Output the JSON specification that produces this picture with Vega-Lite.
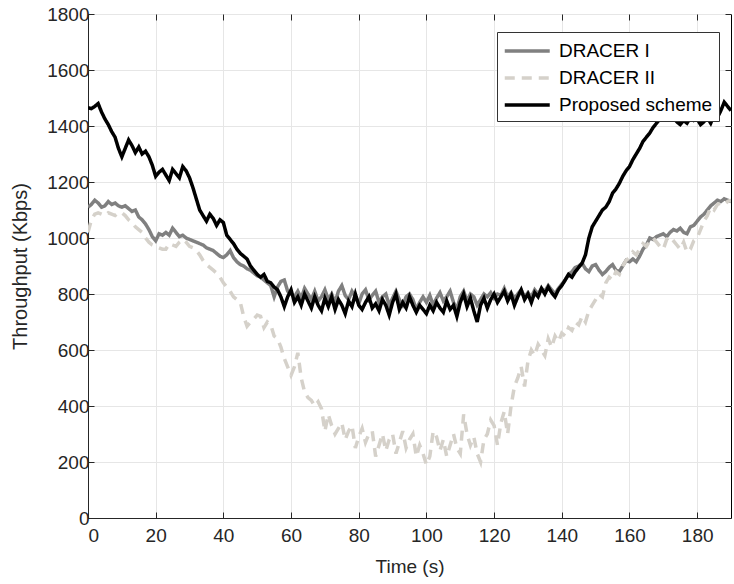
{
  "$schema": "https://vega.github.io/schema/vega-lite/v6.json",
  "width": 643,
  "height": 504,
  "autosize": {"type": "none"},
  "padding": {"left": 88, "top": 14, "right": 3, "bottom": 66},
  "background": "white",
  "config": {
    "font": "Liberation Sans",
    "view": {"stroke": "black", "strokeWidth": 1}
  },
  "data": {"values": [
    {"t":0,"DRACER I":1110,"DRACER II":1020,"Proposed scheme":1465},
    {"t":1,"DRACER I":1120,"DRACER II":1065,"Proposed scheme":1462},
    {"t":2,"DRACER I":1135,"DRACER II":1085,"Proposed scheme":1470},
    {"t":3,"DRACER I":1125,"DRACER II":1090,"Proposed scheme":1480},
    {"t":4,"DRACER I":1110,"DRACER II":1085,"Proposed scheme":1450},
    {"t":5,"DRACER I":1115,"DRACER II":1080,"Proposed scheme":1425},
    {"t":6,"DRACER I":1130,"DRACER II":1090,"Proposed scheme":1405},
    {"t":7,"DRACER I":1120,"DRACER II":1085,"Proposed scheme":1380},
    {"t":8,"DRACER I":1125,"DRACER II":1080,"Proposed scheme":1360},
    {"t":9,"DRACER I":1115,"DRACER II":1090,"Proposed scheme":1320},
    {"t":10,"DRACER I":1110,"DRACER II":1090,"Proposed scheme":1290},
    {"t":11,"DRACER I":1115,"DRACER II":1080,"Proposed scheme":1320},
    {"t":12,"DRACER I":1105,"DRACER II":1065,"Proposed scheme":1350},
    {"t":13,"DRACER I":1095,"DRACER II":1055,"Proposed scheme":1330},
    {"t":14,"DRACER I":1100,"DRACER II":1040,"Proposed scheme":1305},
    {"t":15,"DRACER I":1075,"DRACER II":1030,"Proposed scheme":1325},
    {"t":16,"DRACER I":1065,"DRACER II":1020,"Proposed scheme":1300},
    {"t":17,"DRACER I":1050,"DRACER II":1000,"Proposed scheme":1310},
    {"t":18,"DRACER I":1030,"DRACER II":985,"Proposed scheme":1290},
    {"t":19,"DRACER I":1005,"DRACER II":975,"Proposed scheme":1260},
    {"t":20,"DRACER I":990,"DRACER II":970,"Proposed scheme":1220},
    {"t":21,"DRACER I":1015,"DRACER II":965,"Proposed scheme":1235},
    {"t":22,"DRACER I":1010,"DRACER II":960,"Proposed scheme":1245},
    {"t":23,"DRACER I":1020,"DRACER II":960,"Proposed scheme":1225},
    {"t":24,"DRACER I":1010,"DRACER II":980,"Proposed scheme":1205},
    {"t":25,"DRACER I":1035,"DRACER II":975,"Proposed scheme":1245},
    {"t":26,"DRACER I":1020,"DRACER II":970,"Proposed scheme":1230},
    {"t":27,"DRACER I":1005,"DRACER II":985,"Proposed scheme":1215},
    {"t":28,"DRACER I":1010,"DRACER II":995,"Proposed scheme":1255},
    {"t":29,"DRACER I":1000,"DRACER II":985,"Proposed scheme":1240},
    {"t":30,"DRACER I":995,"DRACER II":970,"Proposed scheme":1215},
    {"t":31,"DRACER I":990,"DRACER II":965,"Proposed scheme":1180},
    {"t":32,"DRACER I":985,"DRACER II":955,"Proposed scheme":1140},
    {"t":33,"DRACER I":980,"DRACER II":940,"Proposed scheme":1100},
    {"t":34,"DRACER I":975,"DRACER II":920,"Proposed scheme":1080},
    {"t":35,"DRACER I":965,"DRACER II":905,"Proposed scheme":1060},
    {"t":36,"DRACER I":960,"DRACER II":895,"Proposed scheme":1085},
    {"t":37,"DRACER I":955,"DRACER II":885,"Proposed scheme":1070},
    {"t":38,"DRACER I":945,"DRACER II":875,"Proposed scheme":1045},
    {"t":39,"DRACER I":935,"DRACER II":860,"Proposed scheme":1065},
    {"t":40,"DRACER I":930,"DRACER II":840,"Proposed scheme":1055},
    {"t":41,"DRACER I":940,"DRACER II":825,"Proposed scheme":1010},
    {"t":42,"DRACER I":955,"DRACER II":810,"Proposed scheme":995},
    {"t":43,"DRACER I":930,"DRACER II":790,"Proposed scheme":980},
    {"t":44,"DRACER I":915,"DRACER II":780,"Proposed scheme":960},
    {"t":45,"DRACER I":905,"DRACER II":770,"Proposed scheme":945},
    {"t":46,"DRACER I":900,"DRACER II":720,"Proposed scheme":935},
    {"t":47,"DRACER I":890,"DRACER II":685,"Proposed scheme":925},
    {"t":48,"DRACER I":885,"DRACER II":700,"Proposed scheme":900},
    {"t":49,"DRACER I":875,"DRACER II":710,"Proposed scheme":885},
    {"t":50,"DRACER I":865,"DRACER II":725,"Proposed scheme":870},
    {"t":51,"DRACER I":860,"DRACER II":720,"Proposed scheme":860},
    {"t":52,"DRACER I":850,"DRACER II":680,"Proposed scheme":870},
    {"t":53,"DRACER I":840,"DRACER II":700,"Proposed scheme":845},
    {"t":54,"DRACER I":830,"DRACER II":690,"Proposed scheme":840},
    {"t":55,"DRACER I":790,"DRACER II":650,"Proposed scheme":825},
    {"t":56,"DRACER I":825,"DRACER II":640,"Proposed scheme":815},
    {"t":57,"DRACER I":845,"DRACER II":610,"Proposed scheme":790},
    {"t":58,"DRACER I":850,"DRACER II":570,"Proposed scheme":755},
    {"t":59,"DRACER I":810,"DRACER II":540,"Proposed scheme":790},
    {"t":60,"DRACER I":800,"DRACER II":510,"Proposed scheme":815},
    {"t":61,"DRACER I":790,"DRACER II":540,"Proposed scheme":770},
    {"t":62,"DRACER I":810,"DRACER II":590,"Proposed scheme":790},
    {"t":63,"DRACER I":785,"DRACER II":500,"Proposed scheme":760},
    {"t":64,"DRACER I":820,"DRACER II":450,"Proposed scheme":800},
    {"t":65,"DRACER I":800,"DRACER II":430,"Proposed scheme":775},
    {"t":66,"DRACER I":780,"DRACER II":420,"Proposed scheme":750},
    {"t":67,"DRACER I":810,"DRACER II":400,"Proposed scheme":790},
    {"t":68,"DRACER I":775,"DRACER II":415,"Proposed scheme":760},
    {"t":69,"DRACER I":790,"DRACER II":390,"Proposed scheme":740},
    {"t":70,"DRACER I":815,"DRACER II":310,"Proposed scheme":785},
    {"t":71,"DRACER I":780,"DRACER II":370,"Proposed scheme":755},
    {"t":72,"DRACER I":800,"DRACER II":330,"Proposed scheme":790},
    {"t":73,"DRACER I":770,"DRACER II":300,"Proposed scheme":745},
    {"t":74,"DRACER I":810,"DRACER II":320,"Proposed scheme":780},
    {"t":75,"DRACER I":830,"DRACER II":340,"Proposed scheme":760},
    {"t":76,"DRACER I":795,"DRACER II":280,"Proposed scheme":730},
    {"t":77,"DRACER I":780,"DRACER II":310,"Proposed scheme":775},
    {"t":78,"DRACER I":810,"DRACER II":330,"Proposed scheme":755},
    {"t":79,"DRACER I":790,"DRACER II":250,"Proposed scheme":800},
    {"t":80,"DRACER I":765,"DRACER II":290,"Proposed scheme":760},
    {"t":81,"DRACER I":800,"DRACER II":320,"Proposed scheme":745},
    {"t":82,"DRACER I":815,"DRACER II":270,"Proposed scheme":770},
    {"t":83,"DRACER I":780,"DRACER II":300,"Proposed scheme":790},
    {"t":84,"DRACER I":795,"DRACER II":310,"Proposed scheme":750},
    {"t":85,"DRACER I":810,"DRACER II":220,"Proposed scheme":765},
    {"t":86,"DRACER I":770,"DRACER II":260,"Proposed scheme":740},
    {"t":87,"DRACER I":790,"DRACER II":300,"Proposed scheme":780},
    {"t":88,"DRACER I":800,"DRACER II":240,"Proposed scheme":760},
    {"t":89,"DRACER I":760,"DRACER II":280,"Proposed scheme":725},
    {"t":90,"DRACER I":785,"DRACER II":300,"Proposed scheme":770},
    {"t":91,"DRACER I":810,"DRACER II":230,"Proposed scheme":800},
    {"t":92,"DRACER I":780,"DRACER II":270,"Proposed scheme":745},
    {"t":93,"DRACER I":760,"DRACER II":310,"Proposed scheme":770},
    {"t":94,"DRACER I":790,"DRACER II":250,"Proposed scheme":750},
    {"t":95,"DRACER I":800,"DRACER II":280,"Proposed scheme":790},
    {"t":96,"DRACER I":780,"DRACER II":300,"Proposed scheme":760},
    {"t":97,"DRACER I":745,"DRACER II":220,"Proposed scheme":735},
    {"t":98,"DRACER I":770,"DRACER II":260,"Proposed scheme":760},
    {"t":99,"DRACER I":790,"DRACER II":230,"Proposed scheme":745},
    {"t":100,"DRACER I":770,"DRACER II":190,"Proposed scheme":730},
    {"t":101,"DRACER I":795,"DRACER II":220,"Proposed scheme":760},
    {"t":102,"DRACER I":760,"DRACER II":310,"Proposed scheme":740},
    {"t":103,"DRACER I":785,"DRACER II":290,"Proposed scheme":770},
    {"t":104,"DRACER I":805,"DRACER II":240,"Proposed scheme":750},
    {"t":105,"DRACER I":775,"DRACER II":280,"Proposed scheme":735},
    {"t":106,"DRACER I":790,"DRACER II":220,"Proposed scheme":775},
    {"t":107,"DRACER I":810,"DRACER II":260,"Proposed scheme":745},
    {"t":108,"DRACER I":770,"DRACER II":300,"Proposed scheme":760},
    {"t":109,"DRACER I":745,"DRACER II":250,"Proposed scheme":720},
    {"t":110,"DRACER I":790,"DRACER II":230,"Proposed scheme":770},
    {"t":111,"DRACER I":810,"DRACER II":370,"Proposed scheme":800},
    {"t":112,"DRACER I":775,"DRACER II":300,"Proposed scheme":755},
    {"t":113,"DRACER I":800,"DRACER II":260,"Proposed scheme":785},
    {"t":114,"DRACER I":790,"DRACER II":290,"Proposed scheme":740},
    {"t":115,"DRACER I":760,"DRACER II":230,"Proposed scheme":700},
    {"t":116,"DRACER I":780,"DRACER II":200,"Proposed scheme":760},
    {"t":117,"DRACER I":800,"DRACER II":280,"Proposed scheme":785},
    {"t":118,"DRACER I":790,"DRACER II":300,"Proposed scheme":750},
    {"t":119,"DRACER I":805,"DRACER II":350,"Proposed scheme":780},
    {"t":120,"DRACER I":785,"DRACER II":330,"Proposed scheme":800},
    {"t":121,"DRACER I":800,"DRACER II":260,"Proposed scheme":770},
    {"t":122,"DRACER I":795,"DRACER II":340,"Proposed scheme":790},
    {"t":123,"DRACER I":820,"DRACER II":380,"Proposed scheme":810},
    {"t":124,"DRACER I":790,"DRACER II":300,"Proposed scheme":775},
    {"t":125,"DRACER I":805,"DRACER II":400,"Proposed scheme":800},
    {"t":126,"DRACER I":785,"DRACER II":470,"Proposed scheme":760},
    {"t":127,"DRACER I":800,"DRACER II":500,"Proposed scheme":790},
    {"t":128,"DRACER I":815,"DRACER II":540,"Proposed scheme":815},
    {"t":129,"DRACER I":790,"DRACER II":470,"Proposed scheme":780},
    {"t":130,"DRACER I":805,"DRACER II":560,"Proposed scheme":800},
    {"t":131,"DRACER I":790,"DRACER II":600,"Proposed scheme":770},
    {"t":132,"DRACER I":815,"DRACER II":580,"Proposed scheme":805},
    {"t":133,"DRACER I":800,"DRACER II":620,"Proposed scheme":790},
    {"t":134,"DRACER I":820,"DRACER II":600,"Proposed scheme":820},
    {"t":135,"DRACER I":810,"DRACER II":580,"Proposed scheme":800},
    {"t":136,"DRACER I":830,"DRACER II":640,"Proposed scheme":825},
    {"t":137,"DRACER I":815,"DRACER II":610,"Proposed scheme":805},
    {"t":138,"DRACER I":800,"DRACER II":650,"Proposed scheme":790},
    {"t":139,"DRACER I":820,"DRACER II":630,"Proposed scheme":815},
    {"t":140,"DRACER I":835,"DRACER II":660,"Proposed scheme":830},
    {"t":141,"DRACER I":850,"DRACER II":650,"Proposed scheme":850},
    {"t":142,"DRACER I":870,"DRACER II":680,"Proposed scheme":870},
    {"t":143,"DRACER I":880,"DRACER II":670,"Proposed scheme":860},
    {"t":144,"DRACER I":895,"DRACER II":700,"Proposed scheme":880},
    {"t":145,"DRACER I":900,"DRACER II":690,"Proposed scheme":895},
    {"t":146,"DRACER I":910,"DRACER II":720,"Proposed scheme":910},
    {"t":147,"DRACER I":890,"DRACER II":700,"Proposed scheme":940},
    {"t":148,"DRACER I":880,"DRACER II":740,"Proposed scheme":1000},
    {"t":149,"DRACER I":900,"DRACER II":760,"Proposed scheme":1040},
    {"t":150,"DRACER I":905,"DRACER II":780,"Proposed scheme":1060},
    {"t":151,"DRACER I":885,"DRACER II":800,"Proposed scheme":1080},
    {"t":152,"DRACER I":870,"DRACER II":790,"Proposed scheme":1100},
    {"t":153,"DRACER I":880,"DRACER II":840,"Proposed scheme":1110},
    {"t":154,"DRACER I":895,"DRACER II":860,"Proposed scheme":1130},
    {"t":155,"DRACER I":905,"DRACER II":850,"Proposed scheme":1160},
    {"t":156,"DRACER I":885,"DRACER II":880,"Proposed scheme":1175},
    {"t":157,"DRACER I":880,"DRACER II":870,"Proposed scheme":1195},
    {"t":158,"DRACER I":900,"DRACER II":900,"Proposed scheme":1220},
    {"t":159,"DRACER I":920,"DRACER II":920,"Proposed scheme":1240},
    {"t":160,"DRACER I":915,"DRACER II":930,"Proposed scheme":1255},
    {"t":161,"DRACER I":925,"DRACER II":950,"Proposed scheme":1280},
    {"t":162,"DRACER I":915,"DRACER II":940,"Proposed scheme":1300},
    {"t":163,"DRACER I":935,"DRACER II":960,"Proposed scheme":1320},
    {"t":164,"DRACER I":960,"DRACER II":980,"Proposed scheme":1345},
    {"t":165,"DRACER I":975,"DRACER II":970,"Proposed scheme":1360},
    {"t":166,"DRACER I":1000,"DRACER II":990,"Proposed scheme":1375},
    {"t":167,"DRACER I":995,"DRACER II":1000,"Proposed scheme":1395},
    {"t":168,"DRACER I":1005,"DRACER II":985,"Proposed scheme":1410},
    {"t":169,"DRACER I":1010,"DRACER II":970,"Proposed scheme":1425},
    {"t":170,"DRACER I":1015,"DRACER II":960,"Proposed scheme":1435},
    {"t":171,"DRACER I":1005,"DRACER II":995,"Proposed scheme":1430},
    {"t":172,"DRACER I":1020,"DRACER II":1005,"Proposed scheme":1425},
    {"t":173,"DRACER I":1030,"DRACER II":990,"Proposed scheme":1430},
    {"t":174,"DRACER I":1025,"DRACER II":975,"Proposed scheme":1415},
    {"t":175,"DRACER I":1035,"DRACER II":960,"Proposed scheme":1405},
    {"t":176,"DRACER I":1020,"DRACER II":985,"Proposed scheme":1420},
    {"t":177,"DRACER I":1015,"DRACER II":950,"Proposed scheme":1410},
    {"t":178,"DRACER I":1040,"DRACER II":960,"Proposed scheme":1430},
    {"t":179,"DRACER I":1045,"DRACER II":990,"Proposed scheme":1420},
    {"t":180,"DRACER I":1060,"DRACER II":1000,"Proposed scheme":1425},
    {"t":181,"DRACER I":1075,"DRACER II":1030,"Proposed scheme":1405},
    {"t":182,"DRACER I":1085,"DRACER II":1060,"Proposed scheme":1415},
    {"t":183,"DRACER I":1100,"DRACER II":1080,"Proposed scheme":1430},
    {"t":184,"DRACER I":1115,"DRACER II":1110,"Proposed scheme":1410},
    {"t":185,"DRACER I":1125,"DRACER II":1100,"Proposed scheme":1440},
    {"t":186,"DRACER I":1135,"DRACER II":1120,"Proposed scheme":1430},
    {"t":187,"DRACER I":1130,"DRACER II":1125,"Proposed scheme":1455},
    {"t":188,"DRACER I":1140,"DRACER II":1120,"Proposed scheme":1485},
    {"t":189,"DRACER I":1135,"DRACER II":1130,"Proposed scheme":1470},
    {"t":190,"DRACER I":1130,"DRACER II":1135,"Proposed scheme":1455}
  ]},
  "transform": [{"fold": ["DRACER I", "DRACER II", "Proposed scheme"], "as": ["series", "v"]}],
  "layer": [
    {
      "mark": {"type": "line", "strokeWidth": 3.5, "clip": true},
      "encoding": {
        "x": {"field": "t", "type": "quantitative", "scale": {"domain": [0, 190], "nice": false, "zero": false},
              "axis": {"title": "Time (s)", "values": [0,20,40,60,80,100,120,140,160,180], "format": "d", "tickSize": -6, "labelPadding": 14, "titlePadding": 12, "grid": true,
                       "labelFont": "Liberation Sans", "titleFont": "Liberation Sans", "labelFontSize": 19, "titleFontSize": 19, "titleFontWeight": "normal",
                       "labelColor": "#262626", "titleColor": "#262626", "gridColor": "#e6e6e6", "domainColor": "#262626", "tickColor": "#262626"}},
        "y": {"field": "v", "type": "quantitative", "scale": {"domain": [0, 1800], "nice": false},
              "axis": {"title": "Throughput (Kbps)", "values": [0,200,400,600,800,1000,1200,1400,1600,1800], "format": "d", "tickSize": -6, "labelPadding": 5, "titlePadding": 16, "grid": true,
                       "labelFont": "Liberation Sans", "titleFont": "Liberation Sans", "labelFontSize": 19, "titleFontSize": 20, "titleFontWeight": "normal",
                       "labelColor": "#262626", "titleColor": "#262626", "gridColor": "#e6e6e6", "domainColor": "#262626", "tickColor": "#262626"}},
        "color": {"field": "series", "type": "nominal",
                  "scale": {"domain": ["DRACER I", "DRACER II", "Proposed scheme"], "range": ["#808080", "#d5d1ca", "#000000"]},
                  "legend": {"title": null, "orient": "none", "legendX": 409, "legendY": 18, "symbolType": "M-1,0L3,0", "symbolSize": 506, "symbolStrokeWidth": 3.5,
                             "labelFontSize": 19, "labelColor": "#000000", "labelFont": "Liberation Sans", "rowPadding": 4, "padding": 6,
                             "fillColor": "white", "strokeColor": "#333333", "labelOffset": 30}},
        "strokeDash": {"field": "series", "type": "nominal",
                       "scale": {"domain": ["DRACER I", "DRACER II", "Proposed scheme"], "range": [[1, 0], [10, 7], [1, 0]]}}
      }
    },
    {
      "mark": {"type": "line", "opacity": 0},
      "encoding": {
        "x": {"field": "t", "type": "quantitative", "axis": {"orient": "top", "title": null, "labels": false, "domain": false, "grid": false, "tickSize": -6, "tickColor": "#262626", "values": [0,20,40,60,80,100,120,140,160,180]}},
        "y": {"field": "v", "type": "quantitative", "axis": {"orient": "right", "title": null, "labels": false, "domain": false, "grid": false, "tickSize": -6, "tickColor": "#262626", "values": [0,200,400,600,800,1000,1200,1400,1600,1800]}}
      }
    }
  ],
  "resolve": {"axis": {"x": "independent", "y": "independent"}}
}
